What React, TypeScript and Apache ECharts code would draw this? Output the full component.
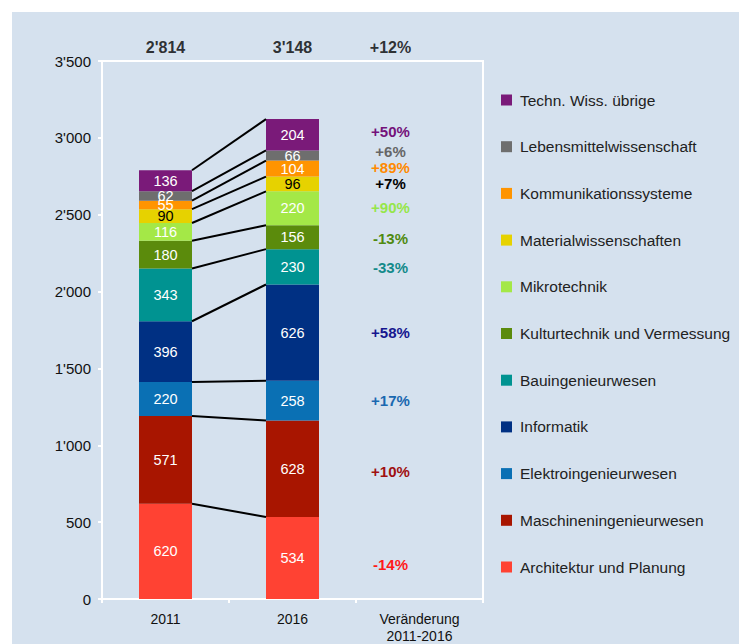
import React, { useEffect, useRef } from "react";
import * as echarts from "echarts";

const categories = ["2011", "2016", "Veränderung\n2011-2016"];
// bottom to top
const fields = [
  "Architektur und Planung",
  "Maschineningenieurwesen",
  "Elektroingenieurwesen",
  "Informatik",
  "Bauingenieurwesen",
  "Kulturtechnik und Vermessung",
  "Mikrotechnik",
  "Materialwissenschaften",
  "Kommunikationssysteme",
  "Lebensmittelwissenschaft",
  "Techn. Wiss. übrige",
];
const values2011 = [620, 571, 220, 396, 343, 180, 116, 90, 55, 62, 136];
const values2016 = [534, 628, 258, 626, 230, 156, 220, 96, 104, 66, 204];
const changes = ["-14%", "+10%", "+17%", "+58%", "-33%", "-13%", "+90%", "+7%", "+89%", "+6%", "+50%"];
const totals = ["2'814", "3'148", "+12%"];

const colors = [
  "#ff4233", "#a81500", "#0a70b4", "#003083", "#009391", "#5b8b0c",
  "#a4e847", "#e6d200", "#ff9400", "#6e6e6e", "#7a1a79",
];
const pctColors = [
  "#ff1a1a", "#a01010", "#1a68b0", "#16168f", "#138a8a", "#4f8a10",
  "#96e64a", "#000000", "#ff8a00", "#666666", "#74127a",
];
const valueLabelColors = fields.map((_, i) => (i === 7 ? "#000" : "#fff"));
const pctDy = [7, 3, 0, 0, 1, 1, -1, 0, -1, -4, -3];

const BAR_W = 53;
const FONT = "'Liberation Sans', Arial, Helvetica, sans-serif";

function fmtThousands(v: number): string {
  if (v >= 1000) {
    return `${Math.floor(v / 1000)}'${String(v % 1000).padStart(3, "0")}`;
  }
  return String(v);
}

export default function App() {
  const ref = useRef<HTMLDivElement>(null);
  useEffect(() => {
    if (!ref.current) return;
    const chart = echarts.init(ref.current, null, { renderer: "svg" });

    const cum2011: number[] = [];
    const cum2016: number[] = [];
    let a = 0;
    let b = 0;
    for (let i = 0; i < fields.length; i++) {
      a += values2011[i];
      b += values2016[i];
      cum2011.push(a);
      cum2016.push(b);
    }

    const barSeries = fields.map((name, i) => ({
      type: "bar",
      name,
      stack: "total",
      barWidth: BAR_W,
      itemStyle: { color: colors[i] },
      label: {
        show: true,
        position: "inside",
        color: valueLabelColors[i],
        fontSize: 14.5,
        fontFamily: FONT,
        formatter: (p: any) => (p.dataIndex === 2 ? changes[i] : String(p.value)),
      },
      data: [
        { value: values2011[i] },
        { value: values2016[i] },
        {
          value: values2016[i],
          itemStyle: { color: "rgba(0,0,0,0)" },
          label: {
            color: pctColors[i],
            fontWeight: "bold",
            fontSize: 15,
            offset: [-29, pctDy[i]],
          },
        },
      ],
    }));

    const option: any = {
      animation: false,
      backgroundColor: "#d5e1ee",
      textStyle: { fontFamily: FONT },
      grid: {
        left: 90,
        top: 49,
        width: 381,
        height: 539,
        show: true,
        borderColor: "#ffffff",
        borderWidth: 2,
        backgroundColor: "transparent",
      },
      legend: {
        orient: "vertical",
        left: 484,
        top: 75,
        itemWidth: 11,
        itemHeight: 11,
        itemGap: 30.7,
        icon: "rect",
        selectedMode: false,
        textStyle: { fontSize: 15.5, color: "#222", fontFamily: FONT, padding: [0, 0, 0, 3] },
        data: [...fields].reverse(),
      },
      xAxis: {
        type: "category",
        data: categories,
        axisLine: { show: true, lineStyle: { color: "#fff", width: 2 } },
        axisTick: { show: true, length: 4, lineStyle: { color: "#fff", width: 2 } },
        axisLabel: { fontSize: 14, color: "#111", margin: 11, lineHeight: 17, fontFamily: FONT },
      },
      yAxis: {
        type: "value",
        min: 0,
        max: 3500,
        interval: 500,
        axisLine: { show: true, lineStyle: { color: "#fff", width: 2 } },
        axisTick: { show: true, length: 4, lineStyle: { color: "#fff", width: 2 } },
        splitLine: { show: false },
        axisLabel: {
          fontSize: 15,
          color: "#111",
          margin: 11,
          fontFamily: FONT,
          formatter: (v: number) => fmtThousands(v),
        },
      },
      series: [
        ...barSeries,
        {
          type: "custom",
          name: "connectors",
          coordinateSystem: "cartesian2d",
          silent: true,
          z: 5,
          data: cum2011.map((v, i) => [0, v, cum2016[i]]),
          renderItem: (_params: any, api: any) => {
            const p0 = api.coord([0, api.value(1)]);
            const p1 = api.coord([1, api.value(2)]);
            const half = BAR_W / 2;
            return {
              type: "line",
              shape: { x1: p0[0] + half, y1: p0[1], x2: p1[0] - half, y2: p1[1] },
              style: { stroke: "#000", lineWidth: 2 },
            };
          },
        },
        {
          type: "scatter",
          name: "totals",
          symbolSize: 0,
          silent: true,
          data: totals.map((t, i) => ({
            value: [i, 3500],
            label: i === 2 ? { offset: [-29, 0] } : undefined,
          })),
          label: {
            show: true,
            position: "top",
            distance: 6,
            fontSize: 16,
            fontWeight: "bold",
            color: "#000",
            fontFamily: FONT,
            formatter: (p: any) => totals[p.dataIndex],
          },
        },
      ],
    };
    chart.setOption(option);
    return () => chart.dispose();
  }, []);

  return (
    <div
      ref={ref}
      style={{ position: "fixed", left: 12, top: 12, width: 727, height: 632 }}
    />
  );
}
